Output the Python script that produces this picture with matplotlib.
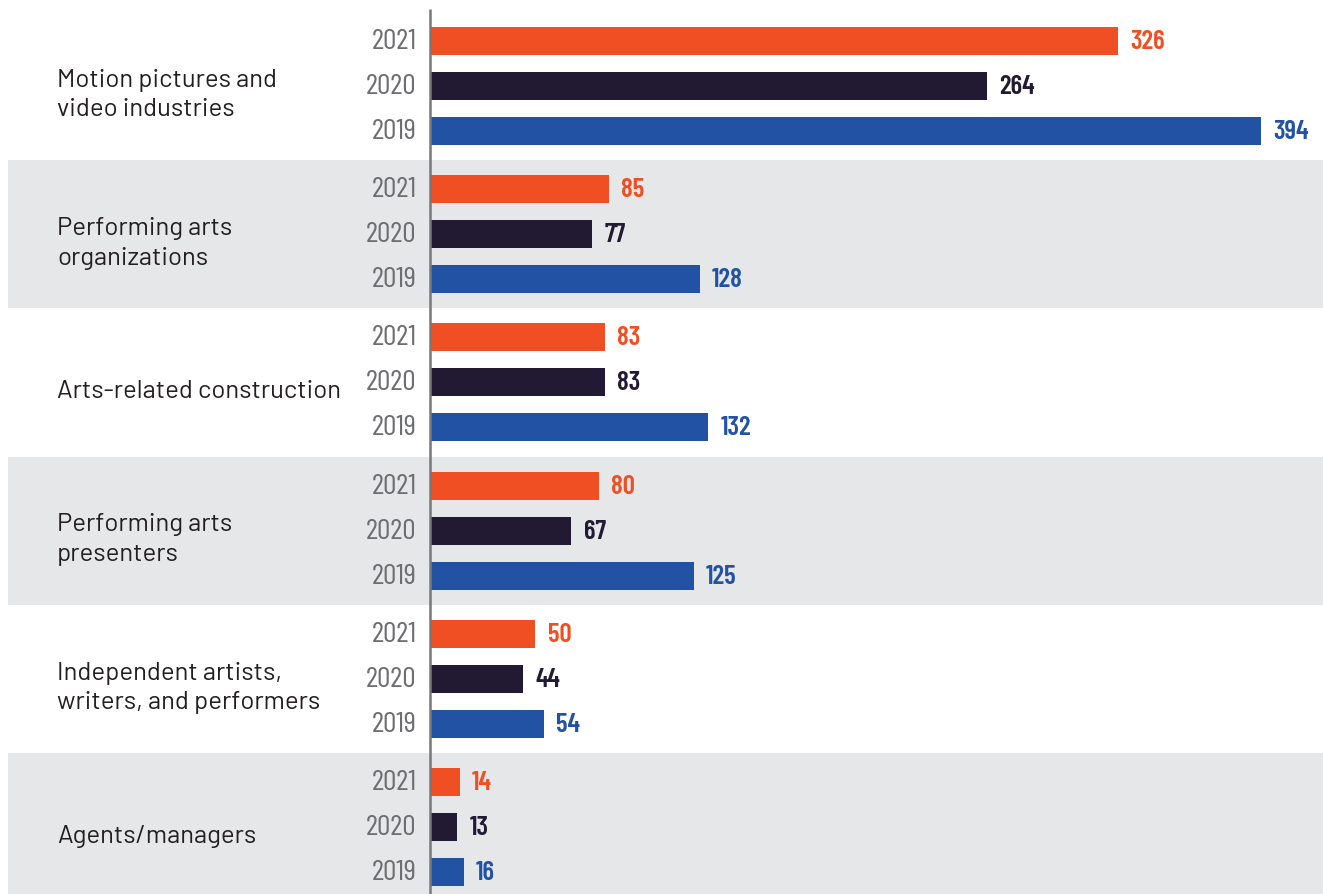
import numpy as np
import matplotlib.pyplot as plt

categories = ['Motion pictures and\nvideo industries', 'Performing arts\norganizations',
              'Arts-related construction', 'Performing arts\npresenters',
              'Independent artists,\nwriters, and performers', 'Agents/managers']
years = ['2021', '2020', '2019']
v2021 = [326, 85, 83, 80, 50, 14]
v2020 = [264, 77, 83, 67, 44, 13]
v2019 = [394, 128, 132, 125, 54, 16]

colors = ['#F04E23', '#221A33', '#2152A3']
band_color = '#E6E7E9'
cond = ['Barlow Condensed', 'DejaVu Sans']
sans = ['Barlow', 'Lato', 'DejaVu Sans']

fig = plt.figure(figsize=(13.23, 8.95), dpi=100)
ax = fig.add_axes([0, 0, 1, 1])

# one unit on y = spacing between bars (45 px), one unit on x = one value
period = 148.2 / 45.0
xscale = 2.109
ax.set_xlim(-430 / xscale, (1323 - 430) / xscale)
ax.set_ylim((895 - 87) / 45.0, -87 / 45.0)
ax.axis('off')

series = [v2021, v2020, v2019]
for g, cat in enumerate(categories):
    center = g * period
    if g % 2 == 1:
        ax.axhspan(center - period / 2, center + period / 2, xmin=8 / 1323, xmax=1,
                   color=band_color, lw=0, zorder=0)
    ax.text((57 - 430) / xscale, center + 0.18, cat, ha='left', va='center',
            fontsize=18.5, color='#231F20', family=sans, linespacing=1.36)
    for k, vals in enumerate(series):
        y = center + (k - 1)
        ax.barh(y, vals[g], height=0.62, color=colors[k], zorder=2)
        ax.text(-6.5, y, years[k], ha='right', va='center', fontsize=21.5,
                color='#6D6E71', family=cond)
        ax.text(vals[g] + 5.8, y, str(vals[g]), ha='left', va='center', fontsize=19.5,
                color=colors[k], fontweight='semibold', family=cond)

ax.vlines(0, -77 / 45.0, (895 - 87) / 45.0, color='#77787B', lw=1.8, zorder=3)

fig.savefig('out.png', dpi=100)
